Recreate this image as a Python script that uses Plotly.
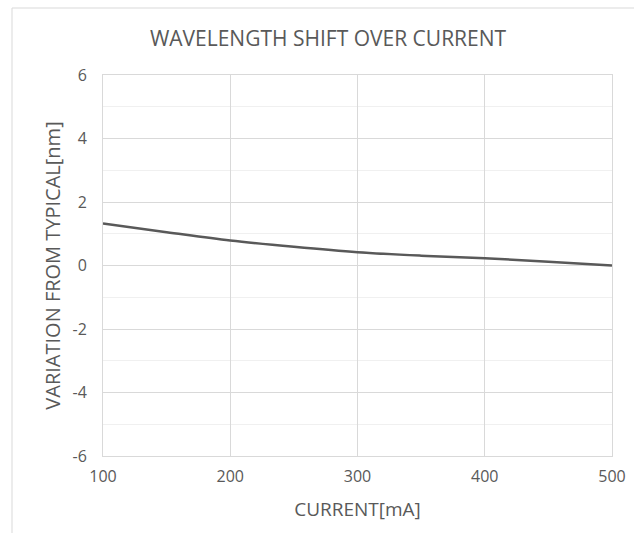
import plotly.graph_objects as go

current_ma = [100, 150, 200, 250, 300, 350, 400, 450, 500]
variation_nm = [1.32, 1.05, 0.79, 0.59, 0.42, 0.31, 0.23, 0.12, 0.0]
x_ticks = [100, 200, 300, 400, 500]
y_ticks = [-6, -4, -2, 0, 2, 4, 6]
y_tick_text = ["-6", "-4", "-2", "0", "2", "4", "6"]

FONT = "Open Sans"
TXT = "#595959"
W, H = 634, 533
L, R, T, B = 103, 22, 75, 77

fig = go.Figure()
fig.add_trace(go.Scatter(
    x=current_ma, y=variation_nm, mode="lines",
    line=dict(color="#595959", width=2.5, shape="spline"),
    showlegend=False, hoverinfo="skip"))

pw, ph = W - L - R, H - T - B
fig.update_layout(
    width=W, height=H, autosize=False,
    margin=dict(l=L, r=R, t=T, b=B, pad=0, autoexpand=False),
    paper_bgcolor="white", plot_bgcolor="white",
    font=dict(family=FONT, color=TXT, size=16),
    title=dict(text="WAVELENGTH SHIFT OVER CURRENT", x=(328) / W, xref="container",
               xanchor="center", y=1 - 39 / H, yanchor="middle",
               font=dict(size=21, color=TXT, family=FONT)),
    xaxis=dict(range=[100, 500], tickvals=x_ticks, showgrid=True, automargin=False,
               gridcolor="#d9d9d9", gridwidth=1, zeroline=False,
               showline=True, linecolor="#d9d9d9", mirror=True,
               ticks="", ticklabelstandoff=6, tickfont=dict(size=16, color=TXT),
               title=dict(text="CURRENT[mA]", font=dict(size=19, color=TXT), standoff=16)),
    yaxis=dict(range=[-6, 6], tickvals=y_ticks, ticktext=y_tick_text, showgrid=True,
               automargin=False,
               gridcolor="#d9d9d9", gridwidth=1, zeroline=False,
               showline=True, linecolor="#d9d9d9", mirror=True,
               minor=dict(dtick=1, showgrid=True, gridcolor="#f0f0f0", gridwidth=1, ticks=""),
               ticks="", ticklabelstandoff=12, tickfont=dict(size=16, color=TXT),
               title=dict(text="VARIATION FROM TYPICAL[nm]", font=dict(size=20, color=TXT), standoff=6)),
    shapes=[dict(type="rect", xref="paper", yref="paper",
                 x0=(12 - L) / pw, x1=1.2, y0=-0.4, y1=(H - B - 8) / ph,
                 line=dict(color="#d9d9d9", width=1), fillcolor="rgba(0,0,0,0)",
                 layer="below")],
)

fig.write_html("out.html", config={"displayModeBar": False},
               post_script="document.body.style.margin='0';")
